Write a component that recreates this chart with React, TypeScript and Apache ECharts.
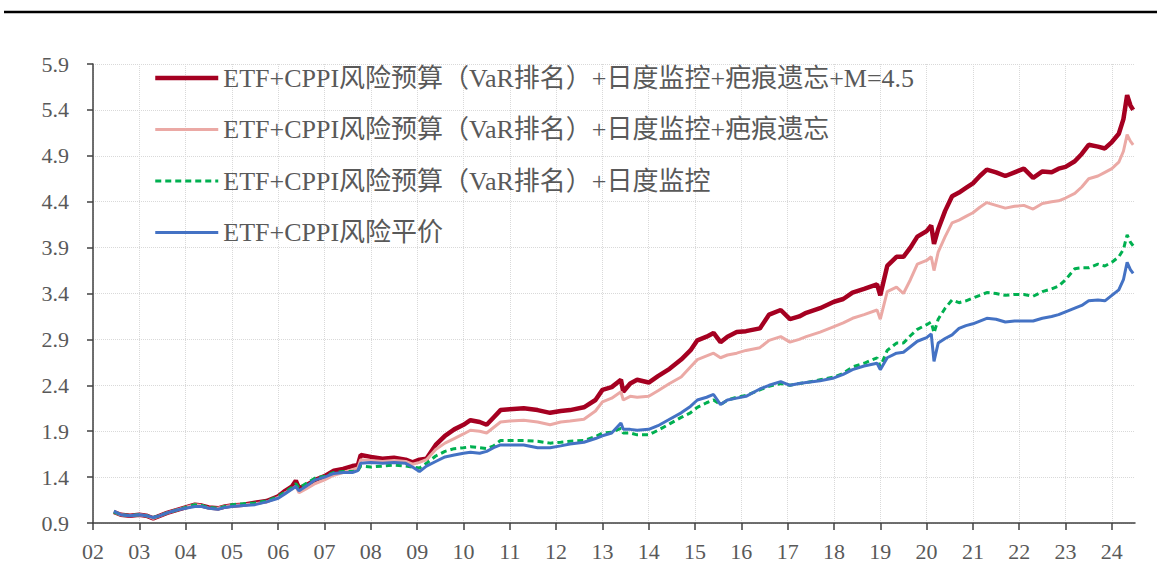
import React, { useEffect, useRef } from "react";
import * as echarts from "echarts";

const seriesNames = [
  "ETF+CPPI风险预算（VaR排名）+日度监控+疤痕遗忘+M=4.5",
  "ETF+CPPI风险预算（VaR排名）+日度监控+疤痕遗忘",
  "ETF+CPPI风险预算（VaR排名）+日度监控",
  "ETF+CPPI风险平价",
];

const yearTicks = [
  2002, 2003, 2004, 2005, 2006, 2007, 2008, 2009, 2010, 2011, 2012, 2013,
  2014, 2015, 2016, 2017, 2018, 2019, 2020, 2021, 2022, 2023, 2024,
];

const dates = [
  2002.45, 2002.6, 2002.8, 2003.0, 2003.15, 2003.3, 2003.45, 2003.6, 2003.8,
  2004.0, 2004.2, 2004.35, 2004.5, 2004.7, 2004.85, 2005.0, 2005.25, 2005.5,
  2005.75, 2006.0, 2006.15, 2006.3, 2006.38, 2006.45, 2006.6, 2006.8, 2007.0,
  2007.2, 2007.4, 2007.6, 2007.72, 2007.78, 2008.0, 2008.25, 2008.5, 2008.75,
  2008.9, 2009.05, 2009.2, 2009.4, 2009.6, 2009.8, 2010.0, 2010.15, 2010.35,
  2010.5, 2010.65, 2010.8, 2011.0, 2011.3, 2011.6, 2011.87, 2012.1, 2012.3,
  2012.6, 2012.85, 2013.0, 2013.2, 2013.4, 2013.45, 2013.6, 2013.75, 2014.0,
  2014.2, 2014.45, 2014.7, 2014.9, 2015.05, 2015.25, 2015.4, 2015.55, 2015.7,
  2015.9, 2016.1, 2016.4, 2016.6, 2016.85, 2017.05, 2017.25, 2017.4, 2017.7,
  2018.0, 2018.2, 2018.4, 2018.65, 2018.93, 2019.0, 2019.15, 2019.35, 2019.5,
  2019.65, 2019.8, 2020.0, 2020.1, 2020.16, 2020.25, 2020.4, 2020.55, 2020.7,
  2020.85, 2021.0, 2021.15, 2021.3, 2021.5, 2021.7, 2021.9, 2022.1, 2022.3,
  2022.5, 2022.7, 2022.85, 2023.0, 2023.2, 2023.35, 2023.5, 2023.7, 2023.85,
  2024.0, 2024.15, 2024.25, 2024.33, 2024.4, 2024.46,
];

const redValues = [
  1.02, 0.99, 0.98, 0.99, 0.98, 0.95, 0.98, 1.01, 1.04,
  1.07, 1.10, 1.09, 1.07, 1.06, 1.08, 1.09, 1.10, 1.12,
  1.14, 1.19, 1.25, 1.30, 1.36, 1.28, 1.31, 1.37, 1.41,
  1.47, 1.49, 1.52, 1.53, 1.64, 1.62, 1.60, 1.61, 1.59,
  1.56, 1.59, 1.60, 1.75, 1.85, 1.92, 1.97, 2.02, 2.00,
  1.97, 2.05, 2.13, 2.14, 2.15, 2.13, 2.10, 2.12, 2.13,
  2.16, 2.24, 2.35, 2.38, 2.46, 2.33, 2.42, 2.46, 2.43,
  2.50, 2.58, 2.68, 2.78, 2.89, 2.93, 2.97, 2.87, 2.93,
  2.98, 2.99, 3.02, 3.17, 3.22, 3.12, 3.15, 3.19, 3.24,
  3.31, 3.34, 3.41, 3.45, 3.50, 3.38, 3.70, 3.80, 3.80,
  3.90, 4.02, 4.08, 4.14, 3.94, 4.10, 4.30, 4.46, 4.50,
  4.55, 4.60, 4.68, 4.75, 4.72, 4.68, 4.72, 4.76, 4.66,
  4.73, 4.72, 4.76, 4.78, 4.84, 4.92, 5.02, 5.00, 4.98,
  5.05, 5.14, 5.30, 5.56, 5.45, 5.40,
];

const pinkValues = [
  1.02, 0.99, 0.98, 0.99, 0.98, 0.95, 0.98, 1.01, 1.04,
  1.07, 1.10, 1.09, 1.06, 1.06, 1.08, 1.09, 1.10, 1.11,
  1.13, 1.18, 1.23, 1.27, 1.30, 1.23, 1.27, 1.33, 1.37,
  1.42, 1.45, 1.48, 1.50, 1.59, 1.58, 1.57, 1.58, 1.57,
  1.54, 1.56, 1.59, 1.70, 1.77, 1.82, 1.87, 1.91, 1.90,
  1.88, 1.94, 2.00, 2.01, 2.02, 2.00, 1.97, 2.00, 2.01,
  2.03, 2.12, 2.22, 2.26, 2.33, 2.24, 2.28, 2.27, 2.28,
  2.34, 2.42, 2.49, 2.60, 2.68, 2.72, 2.75, 2.70, 2.73,
  2.75, 2.78, 2.81, 2.89, 2.93, 2.87, 2.90, 2.93, 2.98,
  3.04, 3.08, 3.13, 3.17, 3.22, 3.12, 3.42, 3.47, 3.40,
  3.55, 3.72, 3.76, 3.80, 3.65, 3.85, 4.02, 4.17, 4.20,
  4.24, 4.28, 4.34, 4.39, 4.36, 4.33, 4.35, 4.36, 4.32,
  4.38, 4.40, 4.41, 4.44, 4.49, 4.56, 4.65, 4.68, 4.72,
  4.76, 4.83, 4.95, 5.13, 5.06, 5.02,
];

const greenValues = [
  1.02, 0.99, 0.98, 0.99, 0.98, 0.96, 0.98, 1.01, 1.04,
  1.07, 1.10, 1.09, 1.07, 1.06, 1.08, 1.10, 1.11, 1.12,
  1.14, 1.19, 1.24, 1.29, 1.33, 1.28, 1.33, 1.39, 1.41,
  1.45, 1.46, 1.46, 1.47, 1.52, 1.51, 1.52, 1.53, 1.52,
  1.51, 1.50, 1.55, 1.63, 1.68, 1.71, 1.72, 1.73, 1.72,
  1.71, 1.74, 1.80, 1.80, 1.80, 1.79, 1.77, 1.78, 1.79,
  1.80, 1.84, 1.88, 1.89, 1.93, 1.88, 1.88, 1.86, 1.86,
  1.91, 1.98, 2.05, 2.10, 2.16, 2.21, 2.24, 2.19, 2.24,
  2.27, 2.29, 2.35, 2.39, 2.42, 2.40, 2.42, 2.43, 2.46,
  2.49, 2.53, 2.60, 2.64, 2.70, 2.60, 2.78, 2.86, 2.86,
  2.94, 3.01, 3.06, 3.09, 2.97, 3.12, 3.24, 3.33, 3.30,
  3.32, 3.35, 3.38, 3.41, 3.40, 3.38, 3.39, 3.39, 3.37,
  3.42, 3.45, 3.48, 3.55, 3.67, 3.68, 3.68, 3.72, 3.70,
  3.74, 3.80, 3.88, 4.04, 3.96, 3.92,
];

const blueValues = [
  1.03, 0.99, 0.98, 0.99, 0.98, 0.96, 0.98, 1.01, 1.04,
  1.06, 1.08, 1.08, 1.06, 1.05, 1.07, 1.08, 1.09, 1.10,
  1.13, 1.17, 1.22, 1.27, 1.30, 1.25, 1.30, 1.37, 1.40,
  1.44, 1.45, 1.45, 1.47, 1.55, 1.56, 1.55, 1.56, 1.55,
  1.51, 1.46, 1.52, 1.57, 1.62, 1.64, 1.66, 1.67, 1.66,
  1.68, 1.72, 1.75, 1.75, 1.75, 1.72, 1.72, 1.74, 1.76,
  1.78, 1.82, 1.85, 1.88, 1.99, 1.92, 1.92, 1.91, 1.92,
  1.96, 2.03, 2.10, 2.17, 2.24, 2.27, 2.30, 2.19, 2.24,
  2.26, 2.28, 2.36, 2.40, 2.44, 2.40, 2.42, 2.43, 2.45,
  2.48, 2.52, 2.57, 2.61, 2.64, 2.57, 2.70, 2.75, 2.76,
  2.82, 2.88, 2.92, 2.96, 2.66, 2.86, 2.91, 2.95, 3.02,
  3.05, 3.07, 3.10, 3.13, 3.12, 3.09, 3.10, 3.10, 3.10,
  3.13, 3.15, 3.17, 3.20, 3.24, 3.27, 3.32, 3.33, 3.32,
  3.38, 3.44, 3.55, 3.74, 3.66, 3.62,
];

const FONT = "'Liberation Serif', 'Times New Roman', 'Noto Sans CJK SC', serif";
const TEXT_COLOR = "#595959";

export default function App() {
  const ref = useRef<HTMLDivElement>(null);

  useEffect(() => {
    if (!ref.current) return;
    const chart = echarts.init(ref.current, null, { renderer: "svg" });
    const pair = (vals: number[]) => dates.map((d, i) => [d, vals[i]]);
    const specs = [
      { vals: redValues, color: "#A50021", width: 4.5, type: "solid" },
      { vals: pinkValues, color: "#EBA9A5", width: 3, type: "solid" },
      { vals: greenValues, color: "#00B050", width: 3, type: [6, 4] },
      { vals: blueValues, color: "#4472C4", width: 3, type: "solid" },
    ];
    chart.setOption({
      animation: false,
      backgroundColor: "#ffffff",
      textStyle: { fontFamily: FONT },
      grid: { left: 93, right: 22, top: 64, bottom: 42, containLabel: false },
      graphic: [
        {
          type: "line",
          shape: { x1: 4, y1: 12, x2: 1157, y2: 12 },
          style: { stroke: "#000000", lineWidth: 2.5 },
        },
      ],
      legend: {
        orient: "vertical",
        left: 153,
        top: 65,
        padding: 0,
        itemWidth: 63,
        itemHeight: 14,
        itemGap: 25.5,
        itemStyle: { opacity: 0 },
        textStyle: {
          fontFamily: FONT,
          fontSize: 26,
          lineHeight: 26,
          color: TEXT_COLOR,
        },
        data: seriesNames.map((name, i) => ({
          name,
          lineStyle: { width: specs[i].width, color: specs[i].color, type: specs[i].type },
        })),
      },
      xAxis: {
        type: "value",
        min: 2002,
        max: 2024.5,
        interval: 1,
        axisLine: { show: true, lineStyle: { color: "#404040", width: 1.5 } },
        axisTick: {
          show: true,
          length: 7,
          customValues: yearTicks,
          lineStyle: { color: "#404040", width: 1.5 },
        },
        axisLabel: {
          customValues: yearTicks,
          margin: 17,
          fontSize: 22,
          fontFamily: FONT,
          color: TEXT_COLOR,
          formatter: (v: number) => String(Math.round(v)).slice(2),
        },
        splitLine: {
          show: true,
          lineStyle: { color: "#D9D9D9", type: "dotted", width: 1 },
        },
      },
      yAxis: {
        type: "value",
        min: 0.9,
        max: 5.9,
        interval: 0.5,
        axisLine: { show: true, lineStyle: { color: "#404040", width: 1.5 } },
        axisTick: {
          show: true,
          length: 6,
          lineStyle: { color: "#404040", width: 1.5 },
        },
        axisLabel: {
          margin: 24,
          fontSize: 22,
          fontFamily: FONT,
          color: TEXT_COLOR,
          formatter: (v: number) => v.toFixed(1),
        },
        splitLine: {
          show: true,
          lineStyle: { color: "#D9D9D9", type: "dotted", width: 1 },
        },
      },
      series: specs.map((s, i) => ({
        name: seriesNames[i],
        type: "line",
        data: pair(s.vals),
        symbol: "none",
        showSymbol: false,
        color: s.color,
        lineStyle: { color: s.color, width: s.width, type: s.type },
        emphasis: { disabled: true },
      })),
    });
    return () => chart.dispose();
  }, []);

  return (
    <div
      ref={ref}
      style={{ position: "fixed", left: 0, top: 0, width: 1157, height: 565, background: "#fff" }}
    />
  );
}
